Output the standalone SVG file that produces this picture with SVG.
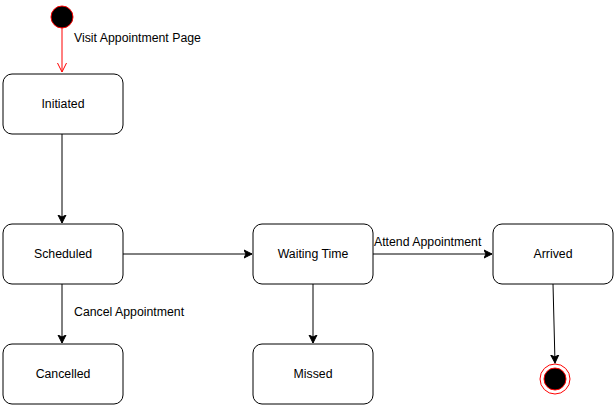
<svg xmlns="http://www.w3.org/2000/svg" width="614" height="406" viewBox="0 0 614 406">
<style>
.node rect{fill:#fff;stroke:#000;stroke-width:1}
text{font-family:"Liberation Sans",Arial,sans-serif;font-size:12.3px;fill:#000}
.c{text-anchor:middle}
.edge{fill:none;stroke:#000;stroke-width:1}
</style>
<defs>
<marker id="a" markerWidth="10" markerHeight="10" refX="8" refY="5" orient="auto" markerUnits="userSpaceOnUse">
<path d="M0,1 L8,5 L0,9 L2,5 Z" fill="#000" stroke="#000" stroke-width="1"/>
</marker>
<marker id="ar" markerWidth="12" markerHeight="12" refX="10" refY="6" orient="auto" markerUnits="userSpaceOnUse">
<path d="M1,1.5 L10,6 L1,10.5" fill="none" stroke="#f00" stroke-width="1"/>
</marker>
</defs>
<g id="start"><circle cx="62" cy="17" r="11" fill="#000" stroke="#f00" stroke-width="1"/></g>
<g id="initiated" class="node"><rect x="3" y="74" width="120" height="60" rx="9"/><text class="c" x="63" y="108">Initiated</text></g>
<g id="scheduled" class="node"><rect x="3" y="224" width="120" height="60" rx="9"/><text class="c" x="63" y="258">Scheduled</text></g>
<g id="cancelled" class="node"><rect x="3" y="344" width="120" height="60" rx="9"/><text class="c" x="63" y="378">Cancelled</text></g>
<g id="waiting" class="node"><rect x="253" y="224" width="120" height="60" rx="9"/><text class="c" x="313" y="258">Waiting Time</text></g>
<g id="missed" class="node"><rect x="253" y="344" width="120" height="60" rx="9"/><text class="c" x="313" y="378">Missed</text></g>
<g id="arrived" class="node"><rect x="493" y="224" width="120" height="60" rx="9"/><text class="c" x="553" y="258">Arrived</text></g>
<g id="end"><circle cx="555" cy="379" r="15" fill="#fff" stroke="#f00" stroke-width="1"/><circle cx="555" cy="379" r="11" fill="#000" stroke="#f00" stroke-width="1"/></g>
<g id="connectors">
<path class="edge" d="M62,28 L62,72" style="stroke:#f00" marker-end="url(#ar)"/>
<text x="74" y="42">Visit Appointment Page</text>
<path class="edge" d="M62,134 L62,223" marker-end="url(#a)"/>
<path class="edge" d="M123,254 L252,254" marker-end="url(#a)"/>
<path class="edge" d="M62,284 L62,343" marker-end="url(#a)"/>
<text x="74" y="316">Cancel Appointment</text>
<path class="edge" d="M373,254 L492,254" marker-end="url(#a)"/>
<text x="374" y="246">Attend Appointment</text>
<path class="edge" d="M313,284 L313,343" marker-end="url(#a)"/>
<path class="edge" d="M553,284 L555,363" marker-end="url(#a)"/>
</g>
</svg>
